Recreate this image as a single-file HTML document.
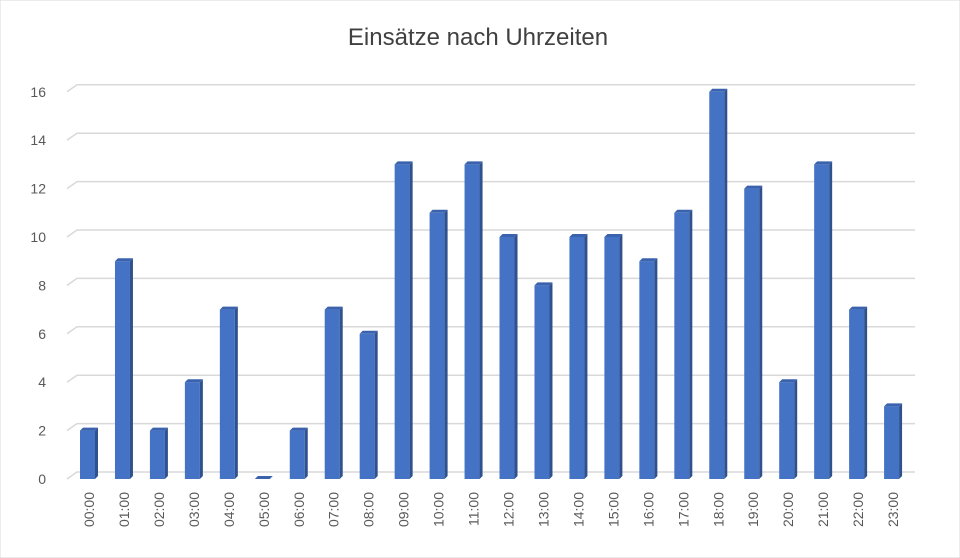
<!DOCTYPE html>
<html><head><meta charset="utf-8"><style>
body{margin:0;background:#fff;}
svg{display:block;font-family:"Liberation Sans",sans-serif;}
</style></head><body>
<svg id="c" width="960" height="558">
<rect x="0" y="0" width="960" height="558" fill="#fff" stroke="#d9d9d9"/>
<text x="478" y="45" text-anchor="middle" font-size="24" fill="#404040">Einsätze nach Uhrzeiten</text>
<g id="grid"></g><g id="bars"></g><g id="labels"></g>
</svg>
<script>
const categories=["00:00","01:00","02:00","03:00","04:00","05:00","06:00","07:00","08:00","09:00","10:00","11:00","12:00","13:00","14:00","15:00","16:00","17:00","18:00","19:00","20:00","21:00","22:00","23:00"];
const values=[2,9,2,4,7,0,2,7,6,13,11,13,10,8,10,10,9,11,16,12,4,13,7,3];
const yTicks=[0,2,4,6,8,10,12,14,16];
const NS="http://www.w3.org/2000/svg";
function mk(t,a,p){const e=document.createElementNS(NS,t);for(const k in a)e.setAttribute(k,a[k]);p.appendChild(e);return e;}
const y0=479,unit=24.2;
const yS=v=>y0-v*unit;
const x0=80,step=34.96;
const xS=i=>x0+i*step;
const g=document.getElementById('grid'),b=document.getElementById('bars'),l=document.getElementById('labels');
yTicks.forEach(v=>{
  const y=yS(v);
  const p=mk('path',{d:`M67 ${y} L77 ${y-7} L915 ${y-7}`,stroke:"#d9d9d9","stroke-width":1.5,fill:"none"},g);
  
  
  const t=mk('text',{x:46,y:y+5,"text-anchor":"end","font-size":14,fill:"#595959"},l);
  t.textContent=v;
  
  
});
values.forEach((v,i)=>{
  const x=xS(i),top=yS(v),w=15,d=3;
  const grp=mk('g',{},b);
  
  
  mk('rect',{x:x,y:top,width:w,height:y0-top,fill:"#4472c4"},grp);
  mk('polygon',{points:`${x+w},${top} ${x+w+d},${top-3} ${x+w+d},${y0-3} ${x+w},${y0}`,fill:"#2f528f"},grp);
  mk('polygon',{points:`${x},${top} ${x+d},${top-3} ${x+w+d},${top-3} ${x+w},${top}`,fill:"#3a62ad"},grp);
  const cx=x+9;
  const t=mk('text',{x:cx,y:490,"text-anchor":"end","font-size":14,fill:"#595959",transform:`rotate(-90 ${cx} 490) translate(-2 5)`},l);
  t.textContent=categories[i];
  
  
});
</script>
</body></html>
